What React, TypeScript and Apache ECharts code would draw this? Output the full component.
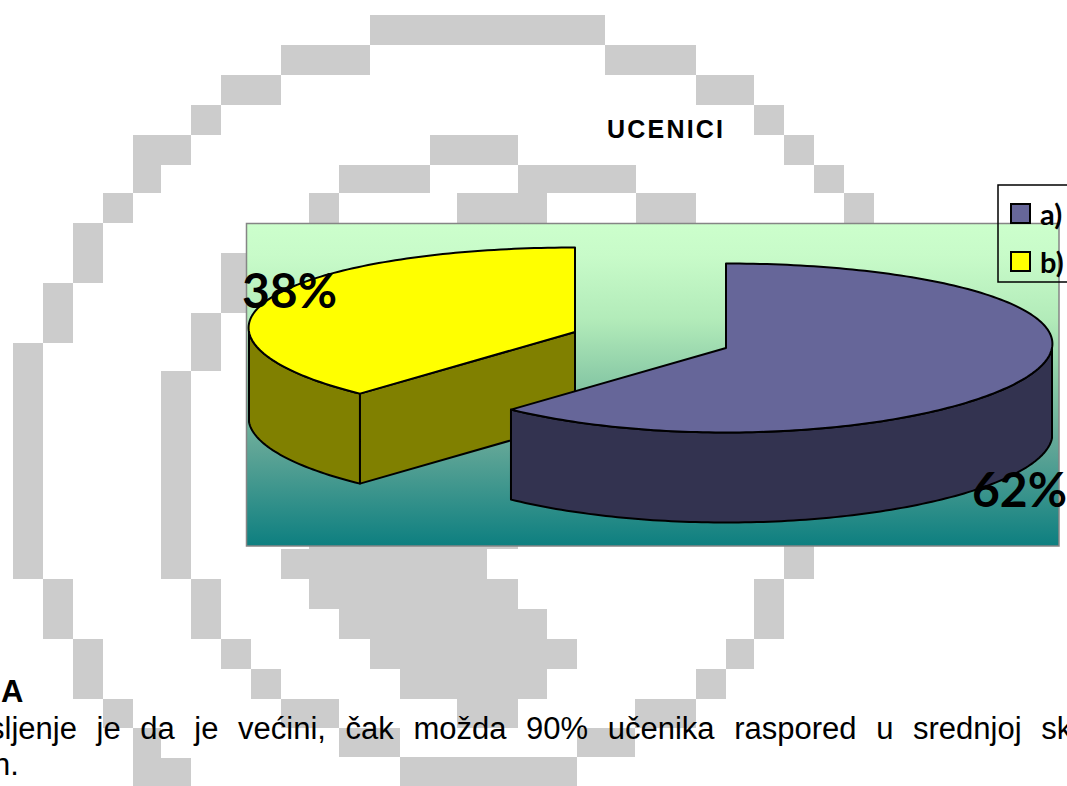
import React, { useEffect, useRef } from "react";
import * as echarts from "echarts";

const titleText = "UCENICI";
const categories = ["a)", "b)"];
const shares = [62, 38];
const topColors = ["#666699", "#ffff00"];
const wallColors = ["#333350", "#808000"];
const headingText = "A";
const bodyLine1 = "sljenje je da je većini, čak možda 90% učenika raspored u srednjoj sk";
const bodyLine2 = "n.";

// [x0, x1, y0, y1] blocks of the page's grey watermark
const watermark: number[][] = [
  [370, 605, 15, 45], [281, 370, 45, 75], [605, 696, 45, 75], [221, 281, 75, 105], [696, 754, 75, 105],
  [191, 221, 105, 135], [754, 784, 105, 135], [133, 191, 135, 165], [430, 518, 135, 165], [784, 814, 135, 165],
  [133, 161, 165, 193], [339, 430, 165, 193], [518, 636, 165, 193], [814, 844, 165, 193],
  [103, 133, 193, 223], [309, 339, 193, 223], [457, 547, 193, 223], [636, 696, 193, 223], [844, 874, 193, 223],
  [73, 103, 223, 283], [43, 73, 283, 343], [13, 43, 343, 579],
  [221, 246, 253, 313], [191, 221, 313, 371], [161, 191, 371, 579],
  [43, 73, 579, 639], [191, 221, 579, 639], [754, 784, 579, 639],
  [73, 103, 639, 699], [103, 133, 699, 728], [133, 161, 728, 758], [133, 191, 758, 786],
  [221, 251, 639, 669], [251, 281, 669, 699], [281, 339, 699, 728], [339, 400, 728, 757], [400, 577, 757, 786],
  [309, 518, 546, 549], [281, 487, 549, 579], [309, 518, 579, 609], [339, 547, 609, 639],
  [370, 577, 639, 669], [400, 547, 669, 699], [457, 518, 699, 728],
  [784, 814, 546, 579], [726, 754, 639, 669], [696, 726, 669, 699], [635, 696, 699, 728], [577, 635, 728, 757],
];

const centers = [[726, 348], [575, 332]];
const labelAt = [[972, 512], [242, 313]];
const RX = 326, RY = 84.5, DEPTH = 90, SKEW = 0.05;
const total = shares.reduce((a, b) => a + b, 0);

function rim(c: number[], t: number, dy = 0) {
  return [c[0] + RX * Math.sin(t) * (1 + SKEW * Math.cos(t)), c[1] - RY * Math.cos(t) + dy];
}
function arc(c: number[], a: number, b: number, dy = 0) {
  const pts: number[][] = [];
  const n = Math.max(2, Math.ceil(Math.abs(b - a) / 0.02));
  for (let i = 0; i <= n; i++) pts.push(rim(c, a + ((b - a) * i) / n, dy));
  return pts;
}

function sliceRenderer(index: number) {
  return (_params: any, api: any) => {
    const value = api.value(0);
    const before = shares.slice(0, index).reduce((a, b) => a + b, 0);
    const a = (before / total) * Math.PI * 2;
    const b = a + (value / total) * Math.PI * 2;
    const c = centers[index];
    const edge = { stroke: "#000", lineWidth: 2, lineJoin: "round" };
    const children: any[] = [];
    const wa = Math.max(a, Math.PI / 2), wb = Math.min(b, (Math.PI * 3) / 2);
    if (wb > wa) {
      const front = arc(c, wa, wb);
      const back = arc(c, wa, wb, DEPTH).reverse();
      children.push({ type: "polygon", shape: { points: [...front, ...back] }, style: { fill: wallColors[index], ...edge } });
    }
    if (a > Math.PI / 2 && a < (Math.PI * 3) / 2) {
      const p = rim(c, a);
      children.push({
        type: "polygon",
        shape: { points: [p, c, [c[0], c[1] + DEPTH], [p[0], p[1] + DEPTH]] },
        style: { fill: wallColors[index], ...edge },
      });
    }
    children.push({
      type: "polygon",
      shape: { points: [c, ...arc(c, a, b)] },
      style: { fill: topColors[index], ...edge },
    });
    children.push({
      type: "text",
      x: labelAt[index][0],
      y: labelAt[index][1],
      style: {
        text: `${value}%`,
        fill: "#000",
        font: "bold 48px Lato",
        textAlign: "left",
        textVerticalAlign: "bottom",
      },
    });
    return { type: "group", children };
  };
}

export default function App() {
  const ref = useRef<HTMLDivElement>(null);
  useEffect(() => {
    document.body.style.margin = "0";
    document.body.style.overflow = "hidden";
    const chart = echarts.init(ref.current!, undefined, { renderer: "svg" });
    const order = [1, 0];
    chart.setOption({
      animation: false,
      backgroundColor: "#ffffff",
      title: {
        text: titleText,
        left: 607,
        top: 116.5,
        padding: 0,
        textStyle: { fontFamily: "Liberation Sans", fontWeight: "bold", fontSize: 25, color: "#000" },
      },
      legend: {
        data: categories,
        orient: "vertical",
        left: 998,
        top: 185,
        padding: [14, 40, 6, 12],
        itemWidth: 19,
        itemHeight: 19,
        itemGap: 19,
        borderColor: "#000",
        borderWidth: 1.5,
        icon: "rect",
        selectedMode: false,
        textStyle: { fontFamily: "Lato", fontWeight: "bold", fontSize: 29, color: "#000", lineHeight: 19, padding: [0, 0, 0, 5] },
      },
      graphic: {
        elements: [
          ...watermark.map(([x0, x1, y0, y1]) => ({
            type: "rect",
            shape: { x: x0, y: y0, width: x1 - x0, height: y1 - y0 },
            style: { fill: "#cccccc" },
          })),
          {
            type: "rect",
            shape: { x: 246.5, y: 223.5, width: 812.5, height: 322.5 },
            style: {
              stroke: "#858585",
              lineWidth: 1.5,
              fill: new echarts.graphic.LinearGradient(0, 0, 0, 1, [
                { offset: 0, color: "#ccffcc" },
                { offset: 0.1, color: "#c8fbc9" },
                { offset: 0.3, color: "#b2ebb9" },
                { offset: 0.5, color: "#87c8a5" },
                { offset: 0.7, color: "#5fa596" },
                { offset: 1, color: "#0d7f80" },
              ]),
            },
          },
          { type: "text", x: 1, y: 676, style: { text: headingText, fill: "#000", font: "bold 31px 'Liberation Sans'" } },
          { type: "text", x: -11, y: 713, style: { text: bodyLine1, fill: "#000", font: "31px 'Liberation Sans'" } },
          { type: "text", x: -7, y: 749, style: { text: bodyLine2, fill: "#000", font: "31px 'Liberation Sans'" } },
        ],
      },
      series: order.map((i) => ({
        type: "custom",
        name: categories[i],
        coordinateSystem: "none",
        itemStyle: { color: topColors[i], borderColor: "#000", borderWidth: 1.5 },
        data: [[shares[i]]],
        renderItem: sliceRenderer(i),
        silent: true,
      })),
    });
    ref.current!.querySelectorAll("text").forEach((t) => {
      if (t.textContent === titleText) t.setAttribute("letter-spacing", "2.2");
      if (t.textContent === bodyLine1) t.setAttribute("word-spacing", "11");
    });
    return () => chart.dispose();
  }, []);
  return <div ref={ref} style={{ position: "absolute", left: 0, top: 0, width: 1067, height: 786, overflow: "hidden" }} />;
}
